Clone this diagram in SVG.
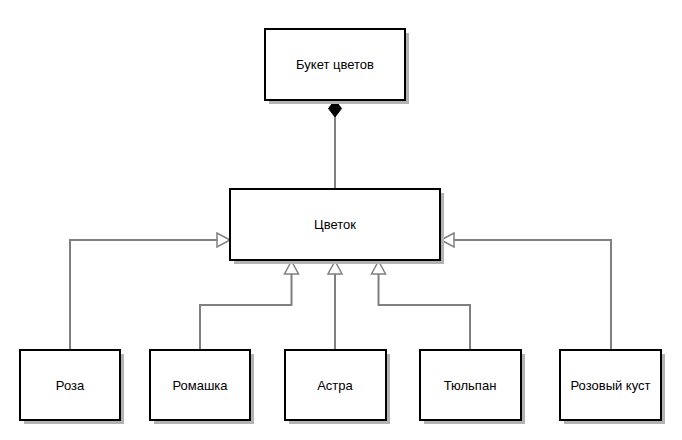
<svg xmlns="http://www.w3.org/2000/svg" width="682" height="440" viewBox="0 0 682 440">
<style>
.shadow{fill:#b3b3b3;}
.box{fill:#fff;stroke:#000;stroke-width:2;}
.lbl{font-family:"Liberation Sans",Arial,sans-serif;font-size:13px;fill:#000;text-anchor:middle;dominant-baseline:central;}
.conn{fill:none;stroke:#808080;stroke-width:2;}
.tri{fill:#fff;stroke:#808080;stroke-width:1.5;}
</style>
<rect width="682" height="440" fill="#fff"/>
<g id="connectors">
<path class="conn" d="M335,117 V190"/>
<polygon points="335,100 341.5,108.5 335,117 328.5,108.5" fill="#000" stroke="#000" stroke-width="1"/>
<path class="conn" d="M70,350 V240 H217"/>
<polygon class="tri" points="230,240 217,233 217,247"/>
<path class="conn" d="M200,350 V305 H291.5 V274"/>
<polygon class="tri" points="291.5,261 284.5,274 298.5,274"/>
<path class="conn" d="M335,350 V274"/>
<polygon class="tri" points="335,261 328,274 342,274"/>
<path class="conn" d="M470,350 V305 H378.5 V274"/>
<polygon class="tri" points="378.5,261 371.5,274 385.5,274"/>
<path class="conn" d="M611,350 V240 H454"/>
<polygon class="tri" points="441,240 454,233 454,247"/>
</g>
<g id="node-buket">
<rect class="shadow" x="269" y="33" width="140" height="71"/>
<rect class="box" x="265" y="29" width="140" height="71"/>
<text class="lbl" x="335" y="64.5">Букет цветов</text>
</g>
<g id="node-tsvetok">
<rect class="shadow" x="234" y="193" width="210" height="71"/>
<rect class="box" x="230" y="189" width="210" height="71"/>
<text class="lbl" x="335" y="224.5">Цветок</text>
</g>
<g id="node-roza">
<rect class="shadow" x="24" y="354" width="100" height="70"/>
<rect class="box" x="20" y="350" width="100" height="70"/>
<text class="lbl" x="70" y="385">Роза</text>
</g>
<g id="node-romashka">
<rect class="shadow" x="154" y="354" width="100" height="70"/>
<rect class="box" x="150" y="350" width="100" height="70"/>
<text class="lbl" x="200" y="385">Ромашка</text>
</g>
<g id="node-astra">
<rect class="shadow" x="289" y="354" width="101" height="70"/>
<rect class="box" x="285" y="350" width="101" height="70"/>
<text class="lbl" x="335" y="385">Астра</text>
</g>
<g id="node-tyulpan">
<rect class="shadow" x="424" y="354" width="101" height="70"/>
<rect class="box" x="420" y="350" width="101" height="70"/>
<text class="lbl" x="470" y="385">Тюльпан</text>
</g>
<g id="node-rozovy-kust">
<rect class="shadow" x="564" y="354" width="101" height="70"/>
<rect class="box" x="560" y="350" width="101" height="70"/>
<text class="lbl" x="610.5" y="385">Розовый куст</text>
</g>
</svg>
